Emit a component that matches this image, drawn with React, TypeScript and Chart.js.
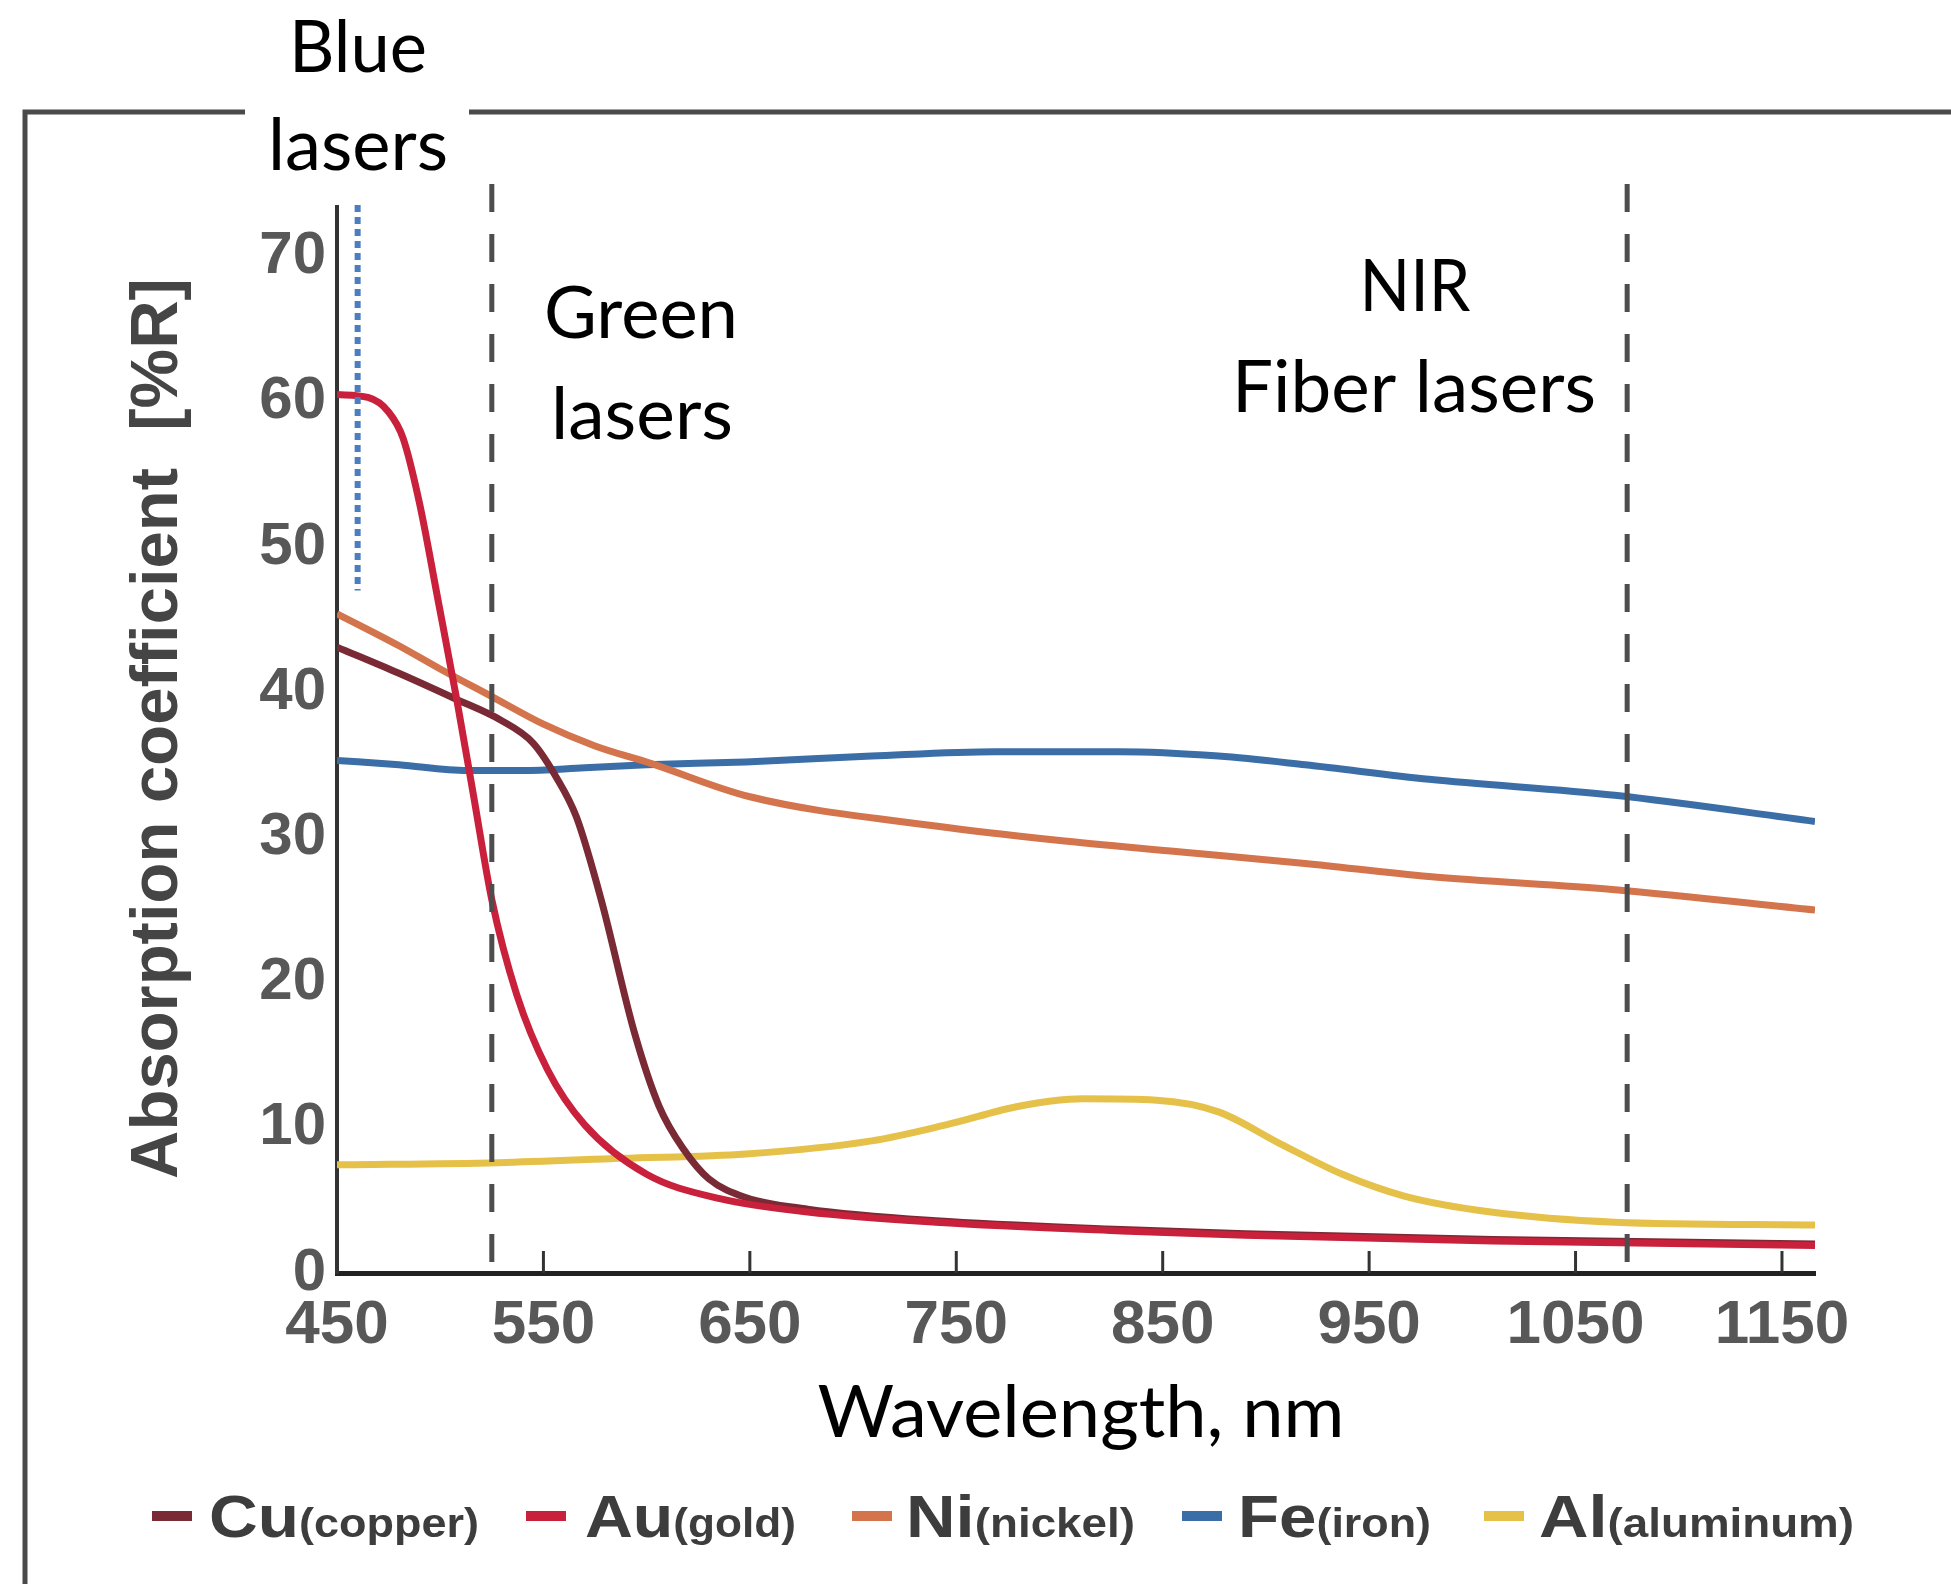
import React, { useEffect, useRef } from 'react';
import { Chart, registerables } from 'chart.js';

Chart.register(...registerables);

// ---------- data ----------
const xTicks = [450, 550, 650, 750, 850, 950, 1050, 1150];
const yTicks = [0, 10, 20, 30, 40, 50, 60, 70];

const seriesLabels = ['Cu(copper)', 'Au(gold)', 'Ni(nickel)', 'Fe(iron)', 'Al(aluminum)'];
const seriesColors = ['#7a2a34', '#c9203c', '#d4744c', '#3b6ea6', '#e6c14a'];

const wavelengthsCu = [450, 480, 508, 529, 545, 556, 566, 578, 594, 606, 618, 630, 648, 678, 740, 830, 890, 1010, 1166];
const valuesCu = [43.1, 41.3, 39.5, 38.1, 36.5, 34.2, 31.4, 25.7, 16.6, 11.5, 8.5, 6.5, 5.2, 4.4, 3.6, 3.0, 2.7, 2.3, 2.0];

const wavelengthsAu = [450, 465, 475, 482, 490, 499, 508, 516, 525, 537, 552, 570, 600, 636, 678, 740, 830, 890, 1010, 1166];
const valuesAu = [60.5, 60.3, 59.3, 57.5, 53.0, 46.3, 39.5, 33.0, 25.7, 19.2, 14.0, 10.2, 6.8, 5.1, 4.2, 3.5, 2.9, 2.6, 2.2, 1.9];

const wavelengthsNi = [450, 480, 500, 525, 550, 575, 602, 650, 739, 799, 859, 919, 979, 1069, 1166];
const valuesNi = [45.4, 43.2, 41.6, 39.7, 37.8, 36.3, 35.1, 32.8, 30.8, 29.8, 29.0, 28.2, 27.3, 26.4, 25.0];

const wavelengthsFe = [450, 480, 513, 540, 570, 600, 648, 709, 769, 829, 877, 919, 979, 1069, 1166];
const valuesFe = [35.3, 35.0, 34.6, 34.6, 34.8, 35.0, 35.2, 35.6, 35.9, 35.9, 35.6, 35.0, 34.0, 32.9, 31.1];

const wavelengthsAl = [450, 528, 588, 648, 709, 745, 781, 811, 847, 877, 907, 937, 967, 1009, 1069, 1166];
const valuesAl = [7.45, 7.6, 7.9, 8.2, 9.1, 10.2, 11.5, 12.0, 11.9, 11.1, 8.9, 6.8, 5.3, 4.2, 3.5, 3.3];

// laser wavelength guides (nm)
const blueLaserNm = 460;
const blueLaserTop = 47;
const greenLaserNm = 525;
const nirLaserNm = 1075;

const xMin = 450;
const xMax = 1166;
const yMin = 0;
const yMax = 75;

const annotationTexts = ['Blue', 'lasers', 'Green', 'lasers', 'NIR', 'Fiber lasers'];
const xTitle = 'Wavelength, nm';
const yTitle = 'Absorption coefficient  [%R]';

// ---------- helpers ----------
function zip(xs: number[], ys: number[]) {
  return xs.map((x, i) => ({ x, y: ys[i] }));
}

function drawFit(ctx: CanvasRenderingContext2D, text: string, cx: number, baseline: number, width: number, font: string, color: string) {
  ctx.save();
  ctx.font = font;
  ctx.fillStyle = color;
  ctx.textAlign = 'center';
  ctx.textBaseline = 'alphabetic';
  const w = ctx.measureText(text).width;
  ctx.translate(cx, baseline);
  ctx.scale(width / w, 1);
  ctx.fillText(text, 0, 0);
  ctx.restore();
}

const annotationLayout = [
  { cx: 358, base: 72, w: 138 },
  { cx: 358, base: 170, w: 180 },
  { cx: 641, base: 338, w: 194 },
  { cx: 642, base: 439, w: 182 },
  { cx: 1415, base: 311, w: 111 },
  { cx: 1414, base: 412, w: 364 },
];

const legendLayout = [
  { m: 152, t: 209, w: 270 },
  { m: 526, t: 585, w: 211 },
  { m: 852, t: 906, w: 229 },
  { m: 1182, t: 1238, w: 193 },
  { m: 1484, t: 1539, w: 315 },
];

const overlayPlugin = {
  id: 'overlay',
  beforeDraw(chart: any) {
    const { ctx, width, height } = chart;
    ctx.save();
    ctx.fillStyle = '#ffffff';
    ctx.fillRect(0, 0, width, height);
    ctx.strokeStyle = '#4a4a4a';
    ctx.lineWidth = 5;
    ctx.beginPath();
    ctx.moveTo(25, height);
    ctx.lineTo(25, 112);
    ctx.lineTo(width, 112);
    ctx.stroke();
    ctx.restore();
  },
  afterDatasetsDraw(chart: any) {
    const { ctx, chartArea, scales } = chart;
    ctx.save();
    ctx.strokeStyle = '#4d4d4d';
    ctx.lineWidth = 5;
    ctx.setLineDash([28, 22]);
    [greenLaserNm, nirLaserNm].forEach((nm) => {
      const px = scales.x.getPixelForValue(nm);
      ctx.beginPath();
      ctx.moveTo(px, chartArea.top);
      ctx.lineTo(px, chartArea.bottom);
      ctx.stroke();
    });
    ctx.restore();
  },
  afterDraw(chart: any) {
    const { ctx, chartArea, scales, data } = chart;
    ctx.save();
    // inward tick marks on the x axis
    ctx.strokeStyle = '#333333';
    ctx.lineWidth = 3;
    xTicks.slice(1).forEach((v) => {
      const px = scales.x.getPixelForValue(v);
      ctx.beginPath();
      ctx.moveTo(px, chartArea.bottom);
      ctx.lineTo(px, chartArea.bottom - 22);
      ctx.stroke();
    });

    // white box behind "Blue lasers"
    ctx.fillStyle = '#ffffff';
    ctx.fillRect(245, 0, 224, 205);

    // blue dotted line
    const bx = scales.x.getPixelForValue(blueLaserNm);
    ctx.strokeStyle = '#4a7ec0';
    ctx.lineWidth = 6;
    ctx.setLineDash([7, 5]);
    ctx.beginPath();
    ctx.moveTo(bx, 205);
    ctx.lineTo(bx, scales.y.getPixelForValue(blueLaserTop));
    ctx.stroke();
    ctx.setLineDash([]);

    // annotation texts
    const annFont = '72px Lato, "Open Sans", sans-serif';
    annotationTexts.forEach((t, i) => {
      const a = annotationLayout[i];
      drawFit(ctx, t, a.cx, a.base, a.w, annFont, '#000000');
    });

    // x title with white box
    ctx.fillStyle = '#ffffff';
    ctx.fillRect(796, 1369, 573, 87);
    drawFit(ctx, xTitle, 1081, 1437, 527, annFont, '#000000');

    // legend
    data.datasets.forEach((ds: any, i: number) => {
      const L = legendLayout[i];
      ctx.fillStyle = ds.borderColor;
      ctx.fillRect(L.m, 1511, 40, 10);
      const label: string = ds.label;
      const idx = label.indexOf('(');
      const sym = label.slice(0, idx);
      const rest = label.slice(idx);
      const f1 = 'bold 60px "Liberation Sans", Arial, sans-serif';
      const f2 = 'bold 40px "Liberation Sans Narrow", "Liberation Sans", sans-serif';
      ctx.font = f1;
      const w1 = ctx.measureText(sym).width;
      ctx.font = f2;
      const w2 = ctx.measureText(rest).width;
      const sx = L.w / (w1 + w2);
      ctx.save();
      ctx.translate(L.t, 1537);
      ctx.scale(sx, 1);
      ctx.fillStyle = '#3d3d3d';
      ctx.textAlign = 'left';
      ctx.textBaseline = 'alphabetic';
      ctx.font = f1;
      ctx.fillText(sym, 0, 0);
      ctx.font = f2;
      ctx.fillText(rest, w1, 0);
      ctx.restore();
    });
    ctx.restore();
  },
};

export default function App() {
  const canvasRef = useRef<HTMLCanvasElement | null>(null);

  useEffect(() => {
    const canvas = canvasRef.current;
    if (!canvas) return;
    const series = [
      zip(wavelengthsCu, valuesCu),
      zip(wavelengthsAu, valuesAu),
      zip(wavelengthsNi, valuesNi),
      zip(wavelengthsFe, valuesFe),
      zip(wavelengthsAl, valuesAl),
    ];
    const orders = [1, 0, 2, 3, 4];
    const chart = new Chart(canvas, {
      type: 'line',
      data: {
        datasets: series.map((d, i) => ({
          label: seriesLabels[i],
          data: d,
          borderColor: seriesColors[i],
          backgroundColor: seriesColors[i],
          borderWidth: 7,
          pointRadius: 0,
          fill: false,
          cubicInterpolationMode: 'monotone' as const,
          order: orders[i],
        })),
      },
      options: {
        animation: false,
        responsive: false,
        maintainAspectRatio: false,
        devicePixelRatio: 1,
        layout: { padding: { top: 184, right: 136, left: 0, bottom: 0 } },
        plugins: {
          legend: { display: false },
          tooltip: { enabled: false },
          title: { display: false },
        },
        scales: {
          x: {
            type: 'linear',
            min: xMin,
            max: xMax,
            afterBuildTicks: (s: any) => {
              s.ticks = xTicks.map((v) => ({ value: v }));
            },
            afterFit: (s: any) => {
              s.height = 311;
            },
            grid: { display: false, drawTicks: false },
            border: { display: true, color: '#222222', width: 5 },
            ticks: {
              color: '#585858',
              font: { family: '"Liberation Sans", Arial, sans-serif', size: 62, weight: 'bold' },
              padding: 16,
              maxRotation: 0,
              autoSkip: false,
              callback: (v: any) => String(v),
            },
          },
          y: {
            type: 'linear',
            min: yMin,
            max: yMax,
            afterBuildTicks: (s: any) => {
              s.ticks = yTicks.map((v) => ({ value: v }));
            },
            afterFit: (s: any) => {
              s.width = 337;
            },
            grid: { display: false, drawTicks: false },
            border: { display: true, color: '#333333', width: 4 },
            ticks: {
              color: '#585858',
              font: { family: '"Liberation Sans", Arial, sans-serif', size: 60, weight: 'bold' },
              padding: 11,
              autoSkip: false,
              callback: (v: any) => String(v),
            },
            title: {
              display: true,
              text: yTitle,
              color: '#454545',
              font: { family: '"Liberation Sans", Arial, sans-serif', size: 67, weight: 'bold' },
              padding: { top: 118, bottom: 0 },
            },
          },
        },
      },
      plugins: [overlayPlugin],
    });
    return () => chart.destroy();
  }, []);

  return (
    <div style={{ position: 'absolute', left: 0, top: 0, width: 1951, height: 1584, background: '#ffffff' }}>
      <canvas ref={canvasRef} width={1951} height={1584} style={{ display: 'block', width: 1951, height: 1584 }} />
    </div>
  );
}
